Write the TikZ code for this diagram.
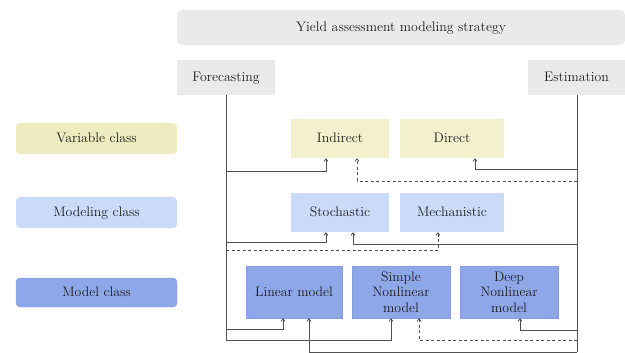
\documentclass[tikz,border=0pt]{standalone}
\usepackage{xcolor}
\usetikzlibrary{arrows.meta}
\usetikzlibrary{calc}

\definecolor{boxgray}{HTML}{EAEAEA}
\definecolor{varyellow}{HTML}{F3F1CD}
\definecolor{classyellow}{HTML}{EDEBBF}
\definecolor{modblue}{HTML}{C9DBF9}
\definecolor{mdlblue}{HTML}{8EA7E8}
\definecolor{mdledge}{HTML}{849EE0}
\definecolor{wire}{HTML}{505050}
\definecolor{ink}{HTML}{1E1E1E}

\tikzset{
  box/.style={inner sep=0pt, align=center, text=ink, font=\fontsize{13.8}{15.5}\selectfont},
  oneline/.style={text height=11pt, text depth=2.5pt},
  graybox/.style={box, oneline, fill=boxgray},
  varbox/.style={box, oneline, fill=varyellow, minimum width=98pt, minimum height=39pt},
  modbox/.style={box, oneline, fill=modblue, minimum width=98pt, minimum height=39pt},
  mdlbox/.style={box, fill=mdlblue, draw=mdledge, line width=0.4pt, minimum width=98pt, minimum height=52pt},
  classbox/.style={box, oneline, rounded corners=4pt, minimum width=161pt, minimum height=31pt},
  link/.style={draw=wire, line width=0.8pt, -{Straight Barb[length=2.5pt,width=4pt]}},
  trunk/.style={draw=wire, line width=0.8pt},
  maybe/.style={link, dash pattern=on 3pt off 2.5pt}
}

\begin{document}
\begin{tikzpicture}[x=1pt,y=-1pt]
  \useasboundingbox (0,0) rectangle (625,353);

  % strategy header and the two branches
  \node[graybox, rounded corners=5pt, minimum width=448pt, minimum height=35pt] (strat) at (401,27.5) {Yield assessment modeling strategy};
  \node[graybox, minimum width=98pt, minimum height=35pt] (fc) at (226,77.5) {Forecasting};
  \node[graybox, minimum width=97pt, minimum height=35pt] (est) at (576.5,77.5) {Estimation};

  % class labels on the left
  \node[classbox, fill=classyellow] (var) at (96.5,138.5) {Variable class};
  \node[classbox, fill=modblue] (modeling) at (96.5,212.5) {Modeling class};
  \node[classbox, fill=mdlblue, draw=mdledge, line width=0.4pt, minimum height=29pt] (mdl) at (96.5,292.5) {Model class};

  % variable class
  \node[varbox] (ind) at (340,138.5) {Indirect};
  \node[varbox, minimum width=104pt] (dir) at (452,138.5) {Direct};

  % modeling class
  \node[modbox] (sto) at (340,212.5) {Stochastic};
  \node[modbox, minimum width=104pt] (mech) at (452,212.5) {Mechanistic};

  % model class
  \node[mdlbox, oneline, minimum width=96pt] (lin) at (294,292) {Linear model};
  \node[mdlbox] (snl) at (401,292) {Simple\\Nonlinear\\model};
  \node[mdlbox] (dnl) at (509,292) {Deep\\Nonlinear\\model};

  % trunks
  \coordinate (fcend) at (226,340);
  \coordinate (estend) at (577,352);
  \draw[trunk] (fc.south) -- (fcend);
  \draw[trunk] (est.south -| estend) -- (estend);

  % forecasting branches
  \draw[link] (226,171) -| ($(ind.south)+(-14,0)$);
  \draw[link] (226,242) -| ($(sto.south)+(-14,0)$);
  \draw[maybe] (226,250) -| ($(mech.south)+(-14,0)$);
  \draw[link] (226,329) -| ($(lin.south)+(-11,0)$);
  \draw[link] (fcend) -| ($(snl.south)+(-10,0)$);

  % estimation branches
  \draw[link] (577,169) -| ($(dir.south)+(23,0)$);
  \draw[maybe] (577,181) -| ($(ind.south)+(17,0)$);
  \draw[link] (577,244) -| ($(sto.south)+(13,0)$);
  \draw[link] (577,330) -| ($(dnl.south)+(11,0)$);
  \draw[maybe] (577,340) -| ($(snl.south)+(18,0)$);
  \draw[link] (estend) -| ($(lin.south)+(15,0)$);
\end{tikzpicture}
\end{document}
